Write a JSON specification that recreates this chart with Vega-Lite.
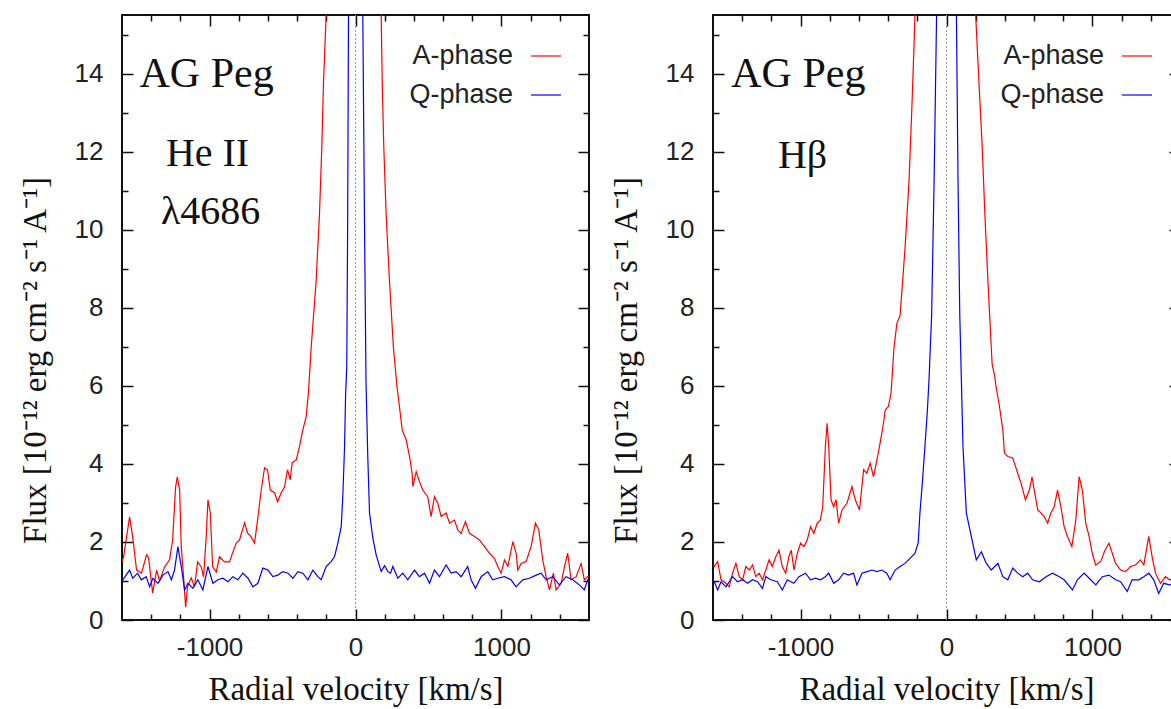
{
  "$schema": "https://vega.github.io/schema/vega-lite/v6.json",
  "autosize": "none",
  "padding": {"left": 122, "top": 15, "right": 1049, "bottom": 694},
  "background": "white",
  "config": {
    "view": {"stroke": "#111", "strokeWidth": 2},
    "axis": {"domain": false, "grid": false, "tickColor": "#111", "tickWidth": 1.5, "labelFont": "Liberation Sans", "labelFontSize": 26, "labelColor": "#222", "titleFont": "Liberation Serif", "titleFontSize": 33, "titleFontWeight": "normal", "titleColor": "#111", "labelOverlap": false, "labelFlush": false},
    "legend": {"orient": "top-right", "offset": 25, "padding": 0, "title": null, "symbolType": "stroke", "symbolSize": 900, "symbolStrokeWidth": 1.2, "labelFont": "Liberation Sans", "labelFontSize": 27, "labelColor": "#222", "labelAlign": "right", "labelOffset": -49, "rowPadding": 10}
  },
  "datasets": {
    "heii": [
      {"phase":"A-phase","v":-1600,"flux":1.5},{"phase":"A-phase","v":-1590,"flux":1.6},{"phase":"A-phase","v":-1548,"flux":2.64},{"phase":"A-phase","v":-1527,"flux":2.13},{"phase":"A-phase","v":-1500,"flux":1.28},{"phase":"A-phase","v":-1466,"flux":1.2},{"phase":"A-phase","v":-1432,"flux":1.67},{"phase":"A-phase","v":-1418,"flux":1.6},{"phase":"A-phase","v":-1390,"flux":0.69},{"phase":"A-phase","v":-1363,"flux":1.28},{"phase":"A-phase","v":-1342,"flux":1.0},{"phase":"A-phase","v":-1308,"flux":1.36},{"phase":"A-phase","v":-1274,"flux":1.54},{"phase":"A-phase","v":-1253,"flux":2.05},{"phase":"A-phase","v":-1233,"flux":3.4},{"phase":"A-phase","v":-1221,"flux":3.67},{"phase":"A-phase","v":-1205,"flux":3.33},{"phase":"A-phase","v":-1194,"flux":1.88},{"phase":"A-phase","v":-1178,"flux":1.1},{"phase":"A-phase","v":-1164,"flux":0.33},{"phase":"A-phase","v":-1151,"flux":0.85},{"phase":"A-phase","v":-1126,"flux":1.08},{"phase":"A-phase","v":-1103,"flux":0.85},{"phase":"A-phase","v":-1082,"flux":1.49},{"phase":"A-phase","v":-1057,"flux":1.36},{"phase":"A-phase","v":-1041,"flux":1.1},{"phase":"A-phase","v":-1023,"flux":2.13},{"phase":"A-phase","v":-1011,"flux":3.08},{"phase":"A-phase","v":-995,"flux":2.74},{"phase":"A-phase","v":-979,"flux":1.36},{"phase":"A-phase","v":-954,"flux":1.23},{"phase":"A-phase","v":-932,"flux":1.62},{"phase":"A-phase","v":-897,"flux":1.49},{"phase":"A-phase","v":-863,"flux":1.49},{"phase":"A-phase","v":-842,"flux":1.72},{"phase":"A-phase","v":-817,"flux":1.97},{"phase":"A-phase","v":-795,"flux":2.05},{"phase":"A-phase","v":-760,"flux":2.49},{"phase":"A-phase","v":-740,"flux":2.23},{"phase":"A-phase","v":-715,"flux":2.13},{"phase":"A-phase","v":-692,"flux":1.97},{"phase":"A-phase","v":-671,"flux":2.56},{"phase":"A-phase","v":-646,"flux":3.33},{"phase":"A-phase","v":-623,"flux":3.9},{"phase":"A-phase","v":-603,"flux":3.85},{"phase":"A-phase","v":-584,"flux":3.33},{"phase":"A-phase","v":-555,"flux":3.26},{"phase":"A-phase","v":-534,"flux":3.03},{"phase":"A-phase","v":-509,"flux":3.26},{"phase":"A-phase","v":-486,"flux":3.41},{"phase":"A-phase","v":-466,"flux":3.85},{"phase":"A-phase","v":-447,"flux":3.59},{"phase":"A-phase","v":-434,"flux":4.03},{"phase":"A-phase","v":-406,"flux":4.1},{"phase":"A-phase","v":-384,"flux":4.44},{"phase":"A-phase","v":-361,"flux":4.87},{"phase":"A-phase","v":-338,"flux":5.21},{"phase":"A-phase","v":-322,"flux":5.85},{"phase":"A-phase","v":-304,"flux":6.97},{"phase":"A-phase","v":-270,"flux":8.67},{"phase":"A-phase","v":-247,"flux":10.38},{"phase":"A-phase","v":-231,"flux":12.1},{"phase":"A-phase","v":-219,"flux":13.8},{"phase":"A-phase","v":-201,"flux":15.5},{"phase":"A-phase","v":-170,"flux":19},{"phase":"A-phase","v":-120,"flux":24},{"phase":"A-phase","v":-60,"flux":28},{"phase":"A-phase","v":0,"flux":30},{"phase":"A-phase","v":60,"flux":28},{"phase":"A-phase","v":120,"flux":24},{"phase":"A-phase","v":160,"flux":18},{"phase":"A-phase","v":176,"flux":15.5},{"phase":"A-phase","v":183,"flux":13.8},{"phase":"A-phase","v":194,"flux":12.1},{"phase":"A-phase","v":210,"flux":10.38},{"phase":"A-phase","v":233,"flux":8.67},{"phase":"A-phase","v":260,"flux":6.97},{"phase":"A-phase","v":285,"flux":5.95},{"phase":"A-phase","v":301,"flux":5.47},{"phase":"A-phase","v":320,"flux":4.87},{"phase":"A-phase","v":347,"flux":4.62},{"phase":"A-phase","v":370,"flux":4.19},{"phase":"A-phase","v":388,"flux":3.76},{"phase":"A-phase","v":393,"flux":3.42},{"phase":"A-phase","v":416,"flux":3.8},{"phase":"A-phase","v":434,"flux":3.59},{"phase":"A-phase","v":461,"flux":3.33},{"phase":"A-phase","v":495,"flux":3.16},{"phase":"A-phase","v":518,"flux":2.65},{"phase":"A-phase","v":541,"flux":3.16},{"phase":"A-phase","v":564,"flux":2.99},{"phase":"A-phase","v":587,"flux":2.65},{"phase":"A-phase","v":621,"flux":2.74},{"phase":"A-phase","v":644,"flux":2.48},{"phase":"A-phase","v":678,"flux":2.56},{"phase":"A-phase","v":701,"flux":2.31},{"phase":"A-phase","v":724,"flux":2.22},{"phase":"A-phase","v":753,"flux":2.52},{"phase":"A-phase","v":781,"flux":2.22},{"phase":"A-phase","v":815,"flux":2.14},{"phase":"A-phase","v":849,"flux":2.05},{"phase":"A-phase","v":884,"flux":1.88},{"phase":"A-phase","v":918,"flux":1.71},{"phase":"A-phase","v":952,"flux":1.58},{"phase":"A-phase","v":975,"flux":1.37},{"phase":"A-phase","v":998,"flux":1.2},{"phase":"A-phase","v":1021,"flux":1.54},{"phase":"A-phase","v":1044,"flux":1.37},{"phase":"A-phase","v":1078,"flux":2.01},{"phase":"A-phase","v":1101,"flux":1.71},{"phase":"A-phase","v":1112,"flux":1.28},{"phase":"A-phase","v":1135,"flux":1.45},{"phase":"A-phase","v":1169,"flux":1.5},{"phase":"A-phase","v":1203,"flux":1.88},{"phase":"A-phase","v":1233,"flux":2.48},{"phase":"A-phase","v":1256,"flux":2.31},{"phase":"A-phase","v":1283,"flux":1.54},{"phase":"A-phase","v":1306,"flux":1.11},{"phase":"A-phase","v":1329,"flux":0.77},{"phase":"A-phase","v":1356,"flux":1.2},{"phase":"A-phase","v":1375,"flux":0.77},{"phase":"A-phase","v":1409,"flux":0.94},{"phase":"A-phase","v":1432,"flux":1.37},{"phase":"A-phase","v":1454,"flux":1.71},{"phase":"A-phase","v":1477,"flux":1.03},{"phase":"A-phase","v":1512,"flux":1.11},{"phase":"A-phase","v":1546,"flux":1.45},{"phase":"A-phase","v":1568,"flux":1.03},{"phase":"A-phase","v":1591,"flux":1.11},{"phase":"A-phase","v":1600,"flux":1.1},
      {"phase":"Q-phase","v":-1600,"flux":1.05},{"phase":"Q-phase","v":-1594,"flux":1.03},{"phase":"Q-phase","v":-1548,"flux":1.28},{"phase":"Q-phase","v":-1527,"flux":1.07},{"phase":"Q-phase","v":-1493,"flux":1.2},{"phase":"Q-phase","v":-1468,"flux":1.03},{"phase":"Q-phase","v":-1434,"flux":1.11},{"phase":"Q-phase","v":-1411,"flux":0.85},{"phase":"Q-phase","v":-1388,"flux":1.07},{"phase":"Q-phase","v":-1354,"flux":0.94},{"phase":"Q-phase","v":-1320,"flux":1.15},{"phase":"Q-phase","v":-1285,"flux":1.24},{"phase":"Q-phase","v":-1262,"flux":1.03},{"phase":"Q-phase","v":-1240,"flux":1.28},{"phase":"Q-phase","v":-1217,"flux":1.88},{"phase":"Q-phase","v":-1194,"flux":1.37},{"phase":"Q-phase","v":-1171,"flux":0.77},{"phase":"Q-phase","v":-1148,"flux":0.94},{"phase":"Q-phase","v":-1114,"flux":0.81},{"phase":"Q-phase","v":-1080,"flux":1.03},{"phase":"Q-phase","v":-1046,"flux":0.77},{"phase":"Q-phase","v":-1011,"flux":1.37},{"phase":"Q-phase","v":-977,"flux":0.94},{"phase":"Q-phase","v":-943,"flux":1.03},{"phase":"Q-phase","v":-909,"flux":1.07},{"phase":"Q-phase","v":-874,"flux":0.98},{"phase":"Q-phase","v":-840,"flux":1.11},{"phase":"Q-phase","v":-806,"flux":1.03},{"phase":"Q-phase","v":-772,"flux":1.2},{"phase":"Q-phase","v":-737,"flux":1.07},{"phase":"Q-phase","v":-703,"flux":0.85},{"phase":"Q-phase","v":-669,"flux":0.94},{"phase":"Q-phase","v":-635,"flux":1.33},{"phase":"Q-phase","v":-600,"flux":1.28},{"phase":"Q-phase","v":-566,"flux":1.11},{"phase":"Q-phase","v":-532,"flux":1.15},{"phase":"Q-phase","v":-498,"flux":1.24},{"phase":"Q-phase","v":-463,"flux":1.2},{"phase":"Q-phase","v":-429,"flux":1.07},{"phase":"Q-phase","v":-395,"flux":1.24},{"phase":"Q-phase","v":-361,"flux":1.2},{"phase":"Q-phase","v":-326,"flux":1.03},{"phase":"Q-phase","v":-292,"flux":1.28},{"phase":"Q-phase","v":-258,"flux":1.11},{"phase":"Q-phase","v":-235,"flux":1.03},{"phase":"Q-phase","v":-201,"flux":1.37},{"phase":"Q-phase","v":-166,"flux":1.5},{"phase":"Q-phase","v":-144,"flux":1.62},{"phase":"Q-phase","v":-121,"flux":1.97},{"phase":"Q-phase","v":-98,"flux":2.39},{"phase":"Q-phase","v":-87,"flux":3.16},{"phase":"Q-phase","v":-75,"flux":4.44},{"phase":"Q-phase","v":-68,"flux":5.73},{"phase":"Q-phase","v":-60,"flux":6.5},{"phase":"Q-phase","v":-54,"flux":10},{"phase":"Q-phase","v":-48,"flux":15.5},{"phase":"Q-phase","v":-30,"flux":22},{"phase":"Q-phase","v":0,"flux":25},{"phase":"Q-phase","v":30,"flux":22},{"phase":"Q-phase","v":50,"flux":15.5},{"phase":"Q-phase","v":62,"flux":10},{"phase":"Q-phase","v":72,"flux":6.1},{"phase":"Q-phase","v":84,"flux":4.2},{"phase":"Q-phase","v":96,"flux":2.74},{"phase":"Q-phase","v":119,"flux":2.1},{"phase":"Q-phase","v":142,"flux":1.66},{"phase":"Q-phase","v":176,"flux":1.24},{"phase":"Q-phase","v":199,"flux":1.39},{"phase":"Q-phase","v":222,"flux":1.24},{"phase":"Q-phase","v":240,"flux":1.2},{"phase":"Q-phase","v":256,"flux":1.37},{"phase":"Q-phase","v":290,"flux":1.07},{"phase":"Q-phase","v":324,"flux":1.2},{"phase":"Q-phase","v":358,"flux":1.03},{"phase":"Q-phase","v":404,"flux":1.28},{"phase":"Q-phase","v":438,"flux":1.11},{"phase":"Q-phase","v":473,"flux":1.2},{"phase":"Q-phase","v":507,"flux":0.94},{"phase":"Q-phase","v":541,"flux":1.28},{"phase":"Q-phase","v":575,"flux":1.11},{"phase":"Q-phase","v":621,"flux":1.41},{"phase":"Q-phase","v":655,"flux":1.2},{"phase":"Q-phase","v":690,"flux":1.24},{"phase":"Q-phase","v":724,"flux":1.11},{"phase":"Q-phase","v":769,"flux":1.37},{"phase":"Q-phase","v":792,"flux":1.03},{"phase":"Q-phase","v":822,"flux":0.81},{"phase":"Q-phase","v":861,"flux":1.11},{"phase":"Q-phase","v":906,"flux":1.24},{"phase":"Q-phase","v":940,"flux":1.03},{"phase":"Q-phase","v":975,"flux":1.07},{"phase":"Q-phase","v":1021,"flux":1.11},{"phase":"Q-phase","v":1066,"flux":1.03},{"phase":"Q-phase","v":1100,"flux":0.85},{"phase":"Q-phase","v":1146,"flux":1.03},{"phase":"Q-phase","v":1192,"flux":1.07},{"phase":"Q-phase","v":1238,"flux":1.15},{"phase":"Q-phase","v":1272,"flux":1.2},{"phase":"Q-phase","v":1306,"flux":1.03},{"phase":"Q-phase","v":1352,"flux":1.11},{"phase":"Q-phase","v":1397,"flux":0.9},{"phase":"Q-phase","v":1443,"flux":1.11},{"phase":"Q-phase","v":1488,"flux":1.03},{"phase":"Q-phase","v":1534,"flux":0.9},{"phase":"Q-phase","v":1568,"flux":0.77},{"phase":"Q-phase","v":1591,"flux":1.03},{"phase":"Q-phase","v":1600,"flux":1.0}
    ],
    "hbeta": [
      {"phase":"A-phase","v":-1600,"flux":1.4},{"phase":"A-phase","v":-1591,"flux":1.37},{"phase":"A-phase","v":-1568,"flux":1.5},{"phase":"A-phase","v":-1545,"flux":1.03},{"phase":"A-phase","v":-1511,"flux":0.94},{"phase":"A-phase","v":-1489,"flux":0.85},{"phase":"A-phase","v":-1466,"flux":1.2},{"phase":"A-phase","v":-1443,"flux":1.45},{"phase":"A-phase","v":-1420,"flux":1.11},{"phase":"A-phase","v":-1397,"flux":1.03},{"phase":"A-phase","v":-1375,"flux":1.37},{"phase":"A-phase","v":-1352,"flux":1.28},{"phase":"A-phase","v":-1329,"flux":1.41},{"phase":"A-phase","v":-1307,"flux":1.11},{"phase":"A-phase","v":-1284,"flux":1.2},{"phase":"A-phase","v":-1261,"flux":1.03},{"phase":"A-phase","v":-1238,"flux":1.28},{"phase":"A-phase","v":-1216,"flux":1.54},{"phase":"A-phase","v":-1193,"flux":1.37},{"phase":"A-phase","v":-1170,"flux":1.62},{"phase":"A-phase","v":-1148,"flux":1.79},{"phase":"A-phase","v":-1125,"flux":1.37},{"phase":"A-phase","v":-1102,"flux":1.2},{"phase":"A-phase","v":-1080,"flux":1.62},{"phase":"A-phase","v":-1064,"flux":1.79},{"phase":"A-phase","v":-1045,"flux":1.28},{"phase":"A-phase","v":-1022,"flux":1.71},{"phase":"A-phase","v":-1000,"flux":1.97},{"phase":"A-phase","v":-977,"flux":1.88},{"phase":"A-phase","v":-954,"flux":2.05},{"phase":"A-phase","v":-932,"flux":2.39},{"phase":"A-phase","v":-909,"flux":2.22},{"phase":"A-phase","v":-886,"flux":2.48},{"phase":"A-phase","v":-864,"flux":2.56},{"phase":"A-phase","v":-848,"flux":2.9},{"phase":"A-phase","v":-830,"flux":4.44},{"phase":"A-phase","v":-818,"flux":5.04},{"phase":"A-phase","v":-807,"flux":4.44},{"phase":"A-phase","v":-791,"flux":3.08},{"phase":"A-phase","v":-773,"flux":2.9},{"phase":"A-phase","v":-757,"flux":3.08},{"phase":"A-phase","v":-739,"flux":2.48},{"phase":"A-phase","v":-716,"flux":2.82},{"phase":"A-phase","v":-682,"flux":2.99},{"phase":"A-phase","v":-648,"flux":3.42},{"phase":"A-phase","v":-625,"flux":3.08},{"phase":"A-phase","v":-596,"flux":2.82},{"phase":"A-phase","v":-568,"flux":3.85},{"phase":"A-phase","v":-546,"flux":3.76},{"phase":"A-phase","v":-523,"flux":4.02},{"phase":"A-phase","v":-500,"flux":3.67},{"phase":"A-phase","v":-477,"flux":4.1},{"phase":"A-phase","v":-455,"flux":4.53},{"phase":"A-phase","v":-432,"flux":5.04},{"phase":"A-phase","v":-420,"flux":5.38},{"phase":"A-phase","v":-398,"flux":5.47},{"phase":"A-phase","v":-380,"flux":5.81},{"phase":"A-phase","v":-368,"flux":6.5},{"phase":"A-phase","v":-360,"flux":6.97},{"phase":"A-phase","v":-340,"flux":7.6},{"phase":"A-phase","v":-318,"flux":7.8},{"phase":"A-phase","v":-284,"flux":9.53},{"phase":"A-phase","v":-257,"flux":11.24},{"phase":"A-phase","v":-239,"flux":12.95},{"phase":"A-phase","v":-223,"flux":14.66},{"phase":"A-phase","v":-216,"flux":15.5},{"phase":"A-phase","v":-180,"flux":20},{"phase":"A-phase","v":-100,"flux":26},{"phase":"A-phase","v":0,"flux":28},{"phase":"A-phase","v":100,"flux":26},{"phase":"A-phase","v":170,"flux":20},{"phase":"A-phase","v":200,"flux":15.5},{"phase":"A-phase","v":222,"flux":13.8},{"phase":"A-phase","v":245,"flux":12.1},{"phase":"A-phase","v":263,"flux":10.38},{"phase":"A-phase","v":284,"flux":8.67},{"phase":"A-phase","v":307,"flux":6.97},{"phase":"A-phase","v":313,"flux":6.54},{"phase":"A-phase","v":329,"flux":6.28},{"phase":"A-phase","v":341,"flux":5.95},{"phase":"A-phase","v":363,"flux":5.47},{"phase":"A-phase","v":386,"flux":4.87},{"phase":"A-phase","v":397,"flux":4.27},{"phase":"A-phase","v":420,"flux":4.19},{"phase":"A-phase","v":454,"flux":4.15},{"phase":"A-phase","v":488,"flux":3.76},{"phase":"A-phase","v":511,"flux":3.5},{"phase":"A-phase","v":541,"flux":3.08},{"phase":"A-phase","v":568,"flux":3.33},{"phase":"A-phase","v":586,"flux":3.67},{"phase":"A-phase","v":609,"flux":3.16},{"phase":"A-phase","v":625,"flux":2.82},{"phase":"A-phase","v":648,"flux":2.74},{"phase":"A-phase","v":670,"flux":2.65},{"phase":"A-phase","v":693,"flux":2.48},{"phase":"A-phase","v":715,"flux":2.74},{"phase":"A-phase","v":738,"flux":2.9},{"phase":"A-phase","v":761,"flux":3.33},{"phase":"A-phase","v":784,"flux":2.9},{"phase":"A-phase","v":806,"flux":2.39},{"phase":"A-phase","v":829,"flux":2.14},{"phase":"A-phase","v":859,"flux":1.88},{"phase":"A-phase","v":886,"flux":2.56},{"phase":"A-phase","v":909,"flux":3.67},{"phase":"A-phase","v":931,"flux":3.33},{"phase":"A-phase","v":954,"flux":2.48},{"phase":"A-phase","v":977,"flux":2.14},{"phase":"A-phase","v":999,"flux":1.71},{"phase":"A-phase","v":1022,"flux":1.41},{"phase":"A-phase","v":1057,"flux":1.5},{"phase":"A-phase","v":1086,"flux":1.79},{"phase":"A-phase","v":1113,"flux":1.97},{"phase":"A-phase","v":1136,"flux":1.71},{"phase":"A-phase","v":1159,"flux":1.45},{"phase":"A-phase","v":1193,"flux":1.28},{"phase":"A-phase","v":1227,"flux":1.24},{"phase":"A-phase","v":1261,"flux":1.37},{"phase":"A-phase","v":1295,"flux":1.41},{"phase":"A-phase","v":1329,"flux":1.54},{"phase":"A-phase","v":1352,"flux":1.41},{"phase":"A-phase","v":1386,"flux":2.14},{"phase":"A-phase","v":1409,"flux":1.62},{"phase":"A-phase","v":1432,"flux":1.2},{"phase":"A-phase","v":1466,"flux":0.94},{"phase":"A-phase","v":1500,"flux":1.11},{"phase":"A-phase","v":1529,"flux":1.03},{"phase":"A-phase","v":1600,"flux":1.05},
      {"phase":"Q-phase","v":-1600,"flux":1.0},{"phase":"Q-phase","v":-1591,"flux":0.98},{"phase":"Q-phase","v":-1568,"flux":0.77},{"phase":"Q-phase","v":-1545,"flux":0.98},{"phase":"Q-phase","v":-1511,"flux":0.85},{"phase":"Q-phase","v":-1466,"flux":1.11},{"phase":"Q-phase","v":-1432,"flux":0.98},{"phase":"Q-phase","v":-1397,"flux":1.03},{"phase":"Q-phase","v":-1363,"flux":0.94},{"phase":"Q-phase","v":-1329,"flux":1.03},{"phase":"Q-phase","v":-1295,"flux":0.98},{"phase":"Q-phase","v":-1261,"flux":0.81},{"phase":"Q-phase","v":-1238,"flux":1.11},{"phase":"Q-phase","v":-1204,"flux":1.03},{"phase":"Q-phase","v":-1159,"flux":0.98},{"phase":"Q-phase","v":-1125,"flux":0.77},{"phase":"Q-phase","v":-1091,"flux":1.03},{"phase":"Q-phase","v":-1046,"flux":0.94},{"phase":"Q-phase","v":-1011,"flux":1.11},{"phase":"Q-phase","v":-966,"flux":1.2},{"phase":"Q-phase","v":-932,"flux":1.03},{"phase":"Q-phase","v":-898,"flux":1.07},{"phase":"Q-phase","v":-864,"flux":1.03},{"phase":"Q-phase","v":-830,"flux":1.11},{"phase":"Q-phase","v":-807,"flux":1.2},{"phase":"Q-phase","v":-773,"flux":0.94},{"phase":"Q-phase","v":-739,"flux":1.03},{"phase":"Q-phase","v":-705,"flux":1.2},{"phase":"Q-phase","v":-671,"flux":1.15},{"phase":"Q-phase","v":-637,"flux":1.2},{"phase":"Q-phase","v":-614,"flux":0.9},{"phase":"Q-phase","v":-579,"flux":1.2},{"phase":"Q-phase","v":-545,"flux":1.24},{"phase":"Q-phase","v":-511,"flux":1.28},{"phase":"Q-phase","v":-477,"flux":1.24},{"phase":"Q-phase","v":-443,"flux":1.28},{"phase":"Q-phase","v":-409,"flux":1.2},{"phase":"Q-phase","v":-386,"flux":1.03},{"phase":"Q-phase","v":-352,"flux":1.28},{"phase":"Q-phase","v":-318,"flux":1.37},{"phase":"Q-phase","v":-284,"flux":1.45},{"phase":"Q-phase","v":-250,"flux":1.58},{"phase":"Q-phase","v":-216,"flux":1.71},{"phase":"Q-phase","v":-194,"flux":1.97},{"phase":"Q-phase","v":-182,"flux":2.74},{"phase":"Q-phase","v":-164,"flux":3.59},{"phase":"Q-phase","v":-148,"flux":4.44},{"phase":"Q-phase","v":-132,"flux":5.3},{"phase":"Q-phase","v":-120,"flux":6.15},{"phase":"Q-phase","v":-102,"flux":7.8},{"phase":"Q-phase","v":-85,"flux":11.24},{"phase":"Q-phase","v":-68,"flux":15.5},{"phase":"Q-phase","v":-40,"flux":22},{"phase":"Q-phase","v":0,"flux":25},{"phase":"Q-phase","v":40,"flux":22},{"phase":"Q-phase","v":68,"flux":15.5},{"phase":"Q-phase","v":79,"flux":11.24},{"phase":"Q-phase","v":91,"flux":7.8},{"phase":"Q-phase","v":102,"flux":6.15},{"phase":"Q-phase","v":113,"flux":4.44},{"phase":"Q-phase","v":136,"flux":2.74},{"phase":"Q-phase","v":170,"flux":2.14},{"phase":"Q-phase","v":204,"flux":1.54},{"phase":"Q-phase","v":239,"flux":1.75},{"phase":"Q-phase","v":273,"flux":1.45},{"phase":"Q-phase","v":307,"flux":1.28},{"phase":"Q-phase","v":352,"flux":1.45},{"phase":"Q-phase","v":386,"flux":1.11},{"phase":"Q-phase","v":420,"flux":1.03},{"phase":"Q-phase","v":454,"flux":1.33},{"phase":"Q-phase","v":488,"flux":1.2},{"phase":"Q-phase","v":522,"flux":1.11},{"phase":"Q-phase","v":556,"flux":1.2},{"phase":"Q-phase","v":590,"flux":1.03},{"phase":"Q-phase","v":636,"flux":0.98},{"phase":"Q-phase","v":682,"flux":1.11},{"phase":"Q-phase","v":727,"flux":1.2},{"phase":"Q-phase","v":773,"flux":1.11},{"phase":"Q-phase","v":806,"flux":1.03},{"phase":"Q-phase","v":863,"flux":0.77},{"phase":"Q-phase","v":897,"flux":1.03},{"phase":"Q-phase","v":943,"flux":1.2},{"phase":"Q-phase","v":988,"flux":1.03},{"phase":"Q-phase","v":1023,"flux":0.9},{"phase":"Q-phase","v":1068,"flux":1.11},{"phase":"Q-phase","v":1113,"flux":1.15},{"phase":"Q-phase","v":1159,"flux":1.03},{"phase":"Q-phase","v":1193,"flux":0.98},{"phase":"Q-phase","v":1238,"flux":0.73},{"phase":"Q-phase","v":1272,"flux":1.03},{"phase":"Q-phase","v":1318,"flux":1.03},{"phase":"Q-phase","v":1352,"flux":1.11},{"phase":"Q-phase","v":1386,"flux":1.2},{"phase":"Q-phase","v":1420,"flux":1.03},{"phase":"Q-phase","v":1454,"flux":0.68},{"phase":"Q-phase","v":1488,"flux":0.94},{"phase":"Q-phase","v":1529,"flux":0.9},{"phase":"Q-phase","v":1600,"flux":0.92}
    ]
  },
  "bounds": "flush",
  "spacing": 124,
  "resolve": {"scale": {"x": "independent", "y": "independent", "color": "independent"}, "legend": {"color": "independent"}},
  "hconcat": [
    {
      "width": 467, "height": 605,
      "resolve": {"axis": {"x": "independent", "y": "independent"}},
      "layer": [
        {
          "data": {"name": "heii"},
          "mark": {"type": "line", "clip": true, "strokeWidth": 1.2},
          "encoding": {
            "x": {"field": "v", "type": "quantitative", "scale": {"domain": [-1600, 1600], "nice": false, "zero": false},
                  "axis": {"orient": "bottom", "values": [-1000, 0, 1000], "tickSize": -11, "labelPadding": 25, "labelExpr": "toString(datum.value)", "title": "Radial velocity [km/s]", "titlePadding": 13}},
            "y": {"field": "flux", "type": "quantitative", "scale": {"domain": [0, 15.5], "nice": false, "zero": false},
                  "axis": {"orient": "left", "values": [0, 2, 4, 6, 8, 10, 12, 14], "tickSize": -11, "labelPadding": 30, "labelExpr": "toString(datum.value)", "title": "Flux [10⁻¹² erg cm⁻² s⁻¹ A⁻¹]", "titlePadding": 22, "titleY": 345}},
            "color": {"field": "phase", "type": "nominal", "scale": {"domain": ["A-phase", "Q-phase"], "range": ["#ff0000", "#0000ff"]}}
          }
        },
        {
          "data": {"values": [{}]},
          "mark": {"type": "rule", "color": "#999999", "strokeWidth": 1, "strokeDash": [2, 2]},
          "encoding": {
            "x": {"datum": 0, "axis": {"orient": "bottom", "values": [-1400, -1200, -800, -600, -400, -200, 200, 400, 600, 800, 1200, 1400], "tickSize": -6, "labels": false, "title": null}},
            "y": {"datum": 0, "axis": {"orient": "left", "values": [1, 3, 5, 7, 9, 11, 13, 15], "tickSize": -6, "labels": false, "title": null}},
            "y2": {"datum": 15.5}
          }
        },
        {
          "data": {"values": [{}]},
          "mark": {"type": "text", "text": "AG Peg", "font": "Liberation Serif", "fontSize": 42, "color": "#111", "align": "left", "baseline": "middle"},
          "encoding": {
            "x": {"datum": -1480, "axis": {"orient": "top", "values": [-1000, 0, 1000], "tickSize": -11, "labels": false, "title": null}},
            "y": {"datum": 14.0, "axis": {"orient": "right", "values": [0, 2, 4, 6, 8, 10, 12, 14], "tickSize": -11, "labels": false, "title": null}}
          }
        },
        {
          "data": {"values": [{}]},
          "mark": {"type": "text", "text": "He II", "font": "Liberation Serif", "fontSize": 40, "color": "#111", "align": "center", "baseline": "middle"},
          "encoding": {
            "x": {"datum": -1014, "axis": {"orient": "top", "values": [-1400, -1200, -800, -600, -400, -200, 200, 400, 600, 800, 1200, 1400], "tickSize": -6, "labels": false, "title": null}},
            "y": {"datum": 11.95, "axis": {"orient": "right", "values": [1, 3, 5, 7, 9, 11, 13, 15], "tickSize": -6, "labels": false, "title": null}}
          }
        },
        {
          "data": {"values": [{}]},
          "mark": {"type": "text", "text": "λ4686", "font": "Liberation Serif", "fontSize": 40, "color": "#111", "align": "center", "baseline": "middle"},
          "encoding": {
            "x": {"datum": -993, "axis": null},
            "y": {"datum": 10.45, "axis": null}
          }
        }
      ]
    },
    {
      "width": 467, "height": 605,
      "resolve": {"axis": {"x": "independent", "y": "independent"}},
      "layer": [
        {
          "data": {"name": "hbeta"},
          "mark": {"type": "line", "clip": true, "strokeWidth": 1.2},
          "encoding": {
            "x": {"field": "v", "type": "quantitative", "scale": {"domain": [-1600, 1600], "nice": false, "zero": false},
                  "axis": {"orient": "bottom", "values": [-1000, 0, 1000], "tickSize": -11, "labelPadding": 25, "labelExpr": "toString(datum.value)", "title": "Radial velocity [km/s]", "titlePadding": 13}},
            "y": {"field": "flux", "type": "quantitative", "scale": {"domain": [0, 15.5], "nice": false, "zero": false},
                  "axis": {"orient": "left", "values": [0, 2, 4, 6, 8, 10, 12, 14], "tickSize": -11, "labelPadding": 30, "labelExpr": "toString(datum.value)", "title": "Flux [10⁻¹² erg cm⁻² s⁻¹ A⁻¹]", "titlePadding": 22, "titleY": 345}},
            "color": {"field": "phase", "type": "nominal", "scale": {"domain": ["A-phase", "Q-phase"], "range": ["#ff0000", "#0000ff"]}}
          }
        },
        {
          "data": {"values": [{}]},
          "mark": {"type": "rule", "color": "#999999", "strokeWidth": 1, "strokeDash": [2, 2]},
          "encoding": {
            "x": {"datum": 0, "axis": {"orient": "bottom", "values": [-1400, -1200, -800, -600, -400, -200, 200, 400, 600, 800, 1200, 1400], "tickSize": -6, "labels": false, "title": null}},
            "y": {"datum": 0, "axis": {"orient": "left", "values": [1, 3, 5, 7, 9, 11, 13, 15], "tickSize": -6, "labels": false, "title": null}},
            "y2": {"datum": 15.5}
          }
        },
        {
          "data": {"values": [{}]},
          "mark": {"type": "text", "text": "AG Peg", "font": "Liberation Serif", "fontSize": 42, "color": "#111", "align": "left", "baseline": "middle"},
          "encoding": {
            "x": {"datum": -1475, "axis": {"orient": "top", "values": [-1000, 0, 1000], "tickSize": -11, "labels": false, "title": null}},
            "y": {"datum": 14.0, "axis": {"orient": "right", "values": [0, 2, 4, 6, 8, 10, 12, 14], "tickSize": -11, "labels": false, "title": null}}
          }
        },
        {
          "data": {"values": [{}]},
          "mark": {"type": "text", "text": "Hβ", "font": "Liberation Serif", "fontSize": 40, "color": "#111", "align": "center", "baseline": "middle"},
          "encoding": {
            "x": {"datum": -986, "axis": {"orient": "top", "values": [-1400, -1200, -800, -600, -400, -200, 200, 400, 600, 800, 1200, 1400], "tickSize": -6, "labels": false, "title": null}},
            "y": {"datum": 11.9, "axis": {"orient": "right", "values": [1, 3, 5, 7, 9, 11, 13, 15], "tickSize": -6, "labels": false, "title": null}}
          }
        }
      ]
    }
  ]
}
